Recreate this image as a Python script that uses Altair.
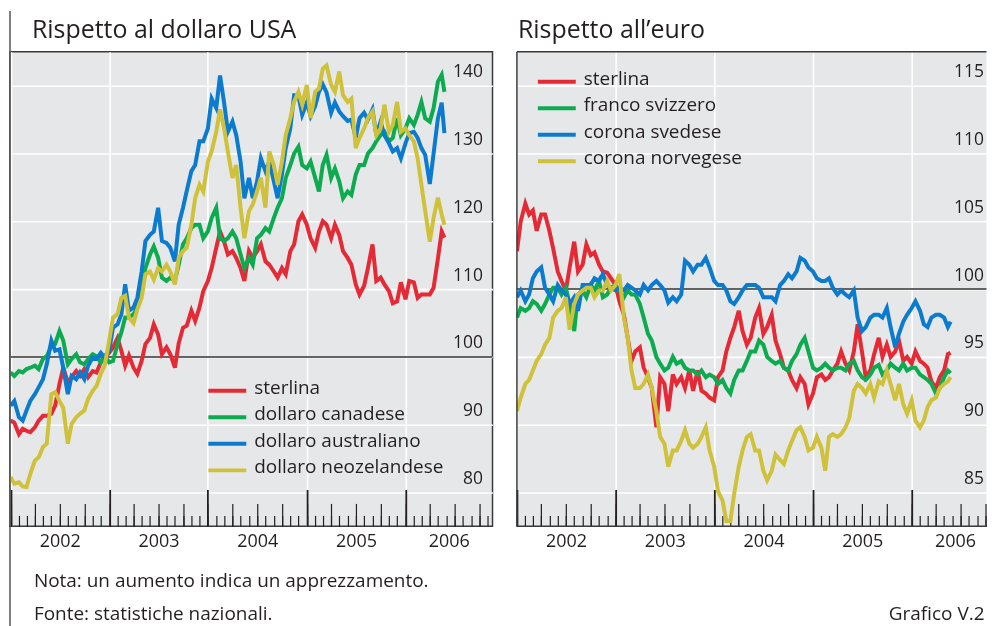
import altair as alt
import pandas as pd

# ---------------------------------------------------------------- data
# semi-monthly observations (1st and 15th), Jan 2002 - end May 2006
dates = [d.strftime("%Y-%m-%d") for d in pd.date_range("2002-01-01", periods=106, freq="SMS")] + ["2006-05-25"]

usd_names = ["sterlina", "dollaro canadese", "dollaro australiano", "dollaro neozelandese"]
eur_names = ["sterlina", "franco svizzero", "corona svedese", "corona norvegese"]
line_colors = ["#e52a35", "#0cab50", "#0b7bcf", "#cfc23a"]

usd_gbp = [
    90.6, 90.3, 88.6, 89.4, 89.1, 88.9, 89.6, 90.6, 91.3, 91.3, 91.6, 92.8, 96.0, 98.4, 96.2, 97.0, 97.9, 97.2, 98.2, 97.0, 97.9, 97.7, 99.2, 99.9,
    100.6, 101.4, 102.8, 100.9, 98.7, 100.2, 98.4, 97.5, 99.4, 101.9, 102.8, 104.8, 103.3, 100.4, 101.4, 100.4, 98.4, 102.0, 104.3, 104.6, 106.8, 105.3, 107.3, 109.7,
    111.2, 113.1, 116.1, 118.5, 117.0, 115.1, 115.6, 114.6, 113.1, 111.2, 115.6, 114.6, 115.6, 116.6, 114.1, 113.6, 112.6, 111.7, 113.1, 112.2, 115.6, 116.6, 120.0, 121.0,
    119.5, 117.5, 116.1, 118.5, 120.0, 119.5, 117.5, 119.5, 118.0, 115.6, 114.6, 113.6, 110.7, 109.2, 110.5, 113.1, 116.6, 111.2, 111.7, 110.7, 109.7, 107.9, 108.2, 111.0,
    108.5, 111.2, 111.0, 108.7, 109.2, 109.2, 109.2, 110.2, 114.5, 118.5, 117.6,
]
usd_cad = [
    97.7, 97.2, 97.9, 97.7, 98.2, 98.4, 98.7, 98.2, 99.7, 100.1, 101.6, 101.9, 103.8, 102.4, 98.9, 99.7, 100.4, 99.2, 98.9, 99.7, 100.4, 100.1, 99.2, 100.1,
    99.2, 99.4, 101.9, 103.6, 105.8, 105.8, 106.3, 107.3, 109.7, 113.1, 115.1, 116.3, 114.6, 111.7, 111.2, 111.7, 111.2, 113.6, 116.6, 117.5, 119.0, 119.5, 119.5, 117.5,
    118.5, 120.5, 122.0, 117.5, 117.1, 117.5, 118.5, 117.5, 115.1, 113.1, 114.6, 113.6, 117.5, 118.0, 119.0, 118.5, 120.5, 122.0, 123.4, 126.4, 128.3, 130.0, 131.0, 128.3,
    127.8, 128.8, 126.4, 124.4, 128.3, 129.8, 126.4, 127.8, 125.9, 123.4, 124.4, 123.9, 126.9, 128.3, 128.3, 130.0, 130.8, 131.8, 132.7, 133.2, 131.8, 132.3, 135.2, 132.7,
    133.7, 135.2, 134.2, 135.7, 137.6, 135.2, 134.7, 136.7, 140.6, 141.6, 139.1,
]
usd_aud = [
    92.8, 93.5, 91.1, 90.6, 92.1, 93.5, 94.5, 95.5, 96.7, 98.9, 102.4, 100.9, 101.1, 98.4, 94.5, 97.2, 96.7, 97.7, 96.7, 98.7, 99.9, 99.7, 100.6, 99.9,
    100.9, 104.3, 104.8, 106.3, 110.7, 106.8, 107.3, 108.7, 112.6, 117.1, 118.0, 118.5, 122.0, 117.1, 116.8, 116.1, 114.1, 119.5, 122.0, 124.5, 127.4, 128.3, 131.8, 131.8,
    133.7, 138.1, 136.7, 141.5, 137.5, 133.2, 134.7, 132.7, 128.8, 123.4, 126.4, 123.4, 125.9, 129.3, 127.4, 128.8, 125.9, 123.4, 126.9, 130.8, 133.7, 138.6, 138.5, 135.7,
    137.5, 135.5, 137.0, 139.1, 140.2, 139.0, 136.0, 137.5, 136.2, 135.5, 134.8, 135.0, 132.3, 135.2, 136.0, 135.0, 136.5, 132.7, 134.7, 132.7, 131.5, 130.3, 130.8, 129.3,
    131.5, 133.0, 133.2, 132.3, 130.8, 129.8, 125.5, 130.0, 135.2, 137.5, 133.0,
]
usd_nzd = [
    82.3, 81.3, 81.5, 80.9, 80.8, 82.7, 84.7, 85.2, 86.7, 87.2, 94.5, 94.8, 93.5, 92.5, 87.2, 90.1, 91.1, 91.6, 92.1, 93.8, 95.0, 95.7, 97.5, 98.7,
    102.4, 105.8, 106.3, 108.7, 109.0, 105.8, 105.0, 107.0, 108.7, 112.2, 112.6, 111.4, 113.1, 112.6, 113.6, 112.6, 110.7, 114.6, 115.6, 116.1, 119.5, 123.4, 125.4, 124.4,
    128.8, 130.3, 133.2, 136.5, 133.7, 130.3, 126.4, 128.3, 122.0, 117.5, 121.5, 122.5, 124.4, 126.4, 122.0, 130.3, 128.3, 125.4, 128.8, 132.7, 135.2, 137.6, 139.1, 137.2,
    140.1, 135.2, 139.1, 139.6, 142.5, 143.0, 140.1, 139.1, 142.1, 138.6, 137.6, 138.1, 130.8, 132.3, 133.7, 135.2, 136.2, 132.7, 133.7, 137.2, 133.2, 134.2, 137.6, 133.2,
    133.7, 132.7, 131.8, 129.3, 125.4, 121.5, 117.0, 120.5, 123.5, 121.0, 119.5,
]

eur_gbp = [
    102.8, 105.0, 106.3, 105.5, 105.8, 104.3, 105.5, 105.5, 104.3, 103.0, 101.3, 100.6, 99.9, 101.6, 103.5, 101.3, 101.8, 103.3, 102.5, 102.7, 101.8, 101.3, 101.2, 100.8,
    100.3, 99.1, 98.1, 96.4, 94.7, 95.4, 95.7, 94.2, 93.5, 92.7, 89.8, 93.5, 93.0, 91.0, 93.7, 93.0, 93.5, 92.7, 94.0, 92.5, 94.0, 92.5, 92.3, 92.0,
    91.8, 93.5, 94.0, 95.4, 96.4, 97.2, 98.4, 96.9, 95.9, 96.4, 97.9, 98.6, 96.7, 97.2, 98.1, 96.2, 95.2, 94.2, 94.0, 93.3, 92.7, 93.5, 93.0, 91.5,
    92.3, 93.5, 93.7, 93.3, 93.5, 94.0, 94.5, 95.4, 94.5, 94.0, 95.4, 97.4, 95.4, 93.5, 94.0, 95.2, 96.4, 95.0, 95.9, 95.0, 95.4, 96.2, 94.7, 95.0,
    94.5, 95.4, 94.7, 94.5, 94.2, 93.2, 92.7, 93.5, 94.0, 95.2, 95.3,
]
eur_chf = [
    97.9, 98.6, 98.4, 98.6, 99.1, 98.9, 98.4, 98.9, 99.6, 100.1, 100.1, 99.6, 100.1, 98.9, 96.9, 99.6, 99.9, 99.4, 100.3, 99.9, 100.6, 99.4, 99.6, 100.1,
    100.3, 99.9, 99.4, 99.9, 99.6, 99.6, 98.9, 97.9, 96.7, 96.2, 95.0, 94.5, 94.0, 94.2, 95.0, 94.5, 94.7, 94.2, 94.0, 94.0, 93.7, 94.0, 93.5, 93.7,
    93.5, 93.0, 93.3, 92.7, 92.3, 93.3, 94.0, 94.0, 94.7, 95.4, 95.4, 96.2, 95.9, 95.0, 94.7, 94.5, 94.7, 94.2, 94.0, 94.7, 95.2, 95.9, 96.4, 95.4,
    94.2, 94.0, 94.2, 94.5, 94.2, 94.0, 94.2, 94.2, 94.0, 94.5, 94.7, 94.0, 93.5, 93.3, 93.7, 94.2, 94.4, 93.7, 94.0, 94.5, 94.2, 94.0, 94.5, 94.0,
    94.2, 94.2, 93.7, 93.5, 93.3, 93.0, 92.3, 92.7, 93.5, 94.0, 93.8,
]
eur_sek = [
    99.4, 99.9, 99.1, 99.6, 100.8, 101.3, 101.6, 100.1, 99.6, 99.1, 100.3, 99.9, 99.6, 98.9, 99.4, 98.4, 100.3, 100.3, 100.3, 100.8, 100.6, 101.1, 100.3, 100.1,
    99.9, 100.1, 99.9, 100.3, 100.1, 99.9, 99.6, 100.3, 99.9, 100.3, 100.6, 100.3, 99.9, 99.0, 99.4, 99.1, 99.6, 102.1, 101.8, 101.3, 101.8, 101.8, 102.3, 101.6,
    100.6, 100.3, 100.3, 99.9, 99.1, 98.9, 99.4, 99.9, 100.3, 100.3, 100.3, 100.1, 99.4, 99.4, 99.4, 99.1, 100.3, 100.6, 101.1, 100.8, 101.3, 102.3, 102.1, 101.6,
    101.3, 100.8, 100.6, 100.6, 100.8, 100.1, 99.6, 99.9, 99.6, 99.4, 99.9, 97.9, 96.9, 97.2, 97.9, 98.1, 98.1, 97.9, 98.6, 97.2, 95.7, 96.7, 97.6, 98.1,
    98.6, 99.1, 98.4, 97.4, 97.2, 97.9, 98.1, 98.1, 97.9, 97.2, 97.6,
]
eur_nok = [
    91.0, 92.0, 93.0, 93.3, 94.0, 94.7, 95.2, 95.9, 96.4, 97.9, 98.4, 98.6, 99.4, 97.0, 98.9, 99.6, 99.9, 100.1, 100.1, 99.4, 99.9, 99.9, 100.6, 99.9,
    100.3, 101.1, 97.9, 96.4, 94.0, 92.7, 92.7, 93.0, 93.7, 92.7, 91.0, 89.1, 88.6, 86.9, 88.1, 88.1, 88.8, 89.6, 88.6, 88.3, 88.6, 89.1, 89.8, 88.1,
    86.9, 85.1, 84.4, 82.9, 82.9, 84.9, 86.9, 88.1, 89.1, 89.3, 88.1, 88.1, 86.6, 85.9, 86.6, 87.8, 87.4, 87.1, 88.1, 88.8, 89.6, 89.8, 89.1, 88.1,
    88.3, 89.1, 88.3, 86.6, 89.1, 89.3, 89.1, 89.3, 89.8, 90.5, 92.5, 93.0, 92.7, 92.3, 93.0, 92.0, 93.2, 93.0, 94.0, 93.0, 91.8, 93.0, 91.5, 90.8,
    91.8, 90.3, 89.8, 90.3, 91.3, 91.8, 92.0, 92.7, 93.0, 93.2, 93.5,
]

usd_ticks = [80, 90, 100, 110, 120, 130, 140]
eur_ticks = [85, 90, 95, 100, 105, 110, 115]
reference_level = [100]
year_label_days = [(2002, 7, 2), (2003, 7, 2), (2004, 7, 2), (2005, 7, 2), (2006, 6, 10)]

note_text = "Nota: un aumento indica un apprezzamento."
source_text = "Fonte: statistiche nazionali."
chart_id = "Grafico V.2"

# ---------------------------------------------------------------- style
FONT = "Open Sans"
TXT = "#231f20"
GRID = "#ffffff"
TICK = "#231f20"
FRAME = "#3a3a3a"
H = 476
TOP = -41          # frame line reaching into the title band


def dt(y, m, d):
    return alt.DateTime(year=y, month=m, date=d, utc=True)


def rule(color, **enc):
    return alt.Chart(pd.DataFrame({"v": [0]})).mark_rule(color=color, strokeWidth=1.5).encode(
        **{k: alt.value(v) for k, v in enc.items()})


def make_panel(names, series, title, title_dx, width, x_start, x_end, y_dom, y_vals,
               y_pad, leg_x, leg_y, extra_layers, view=None):
    for s in series:
        assert len(s) == len(dates)
    rows = []
    for name, vals in zip(names, series):
        for d, v in zip(dates, vals):
            rows.append({"date": d, "value": v, "serie": name})
    df = pd.DataFrame(rows)

    xs = alt.Scale(type="utc", domain=[dt(*x_start), dt(*x_end)], nice=False)
    ys = alt.Scale(domain=y_dom, nice=False, zero=False)

    y_axis = alt.Axis(orient="right", values=y_vals, grid=True, gridColor=GRID, gridWidth=1.6,
                      ticks=False, tickSize=0, domain=False, labelAlign="right",
                      labelPadding=y_pad, labelBaseline="alphabetic", labelOffset=-9,
                      labelFontSize=17.5, labelFont=FONT, labelColor=TXT, labelOverlap=False,
                      title=None)
    year_axis = alt.Axis(orient="bottom", values=[dt(*v) for v in year_label_days], format="%Y",
                         ticks=False, tickSize=0, domain=False, grid=False, labelPadding=6,
                         labelFontSize=18, labelFont=FONT, labelColor=TXT, labelFlush=False,
                         labelOverlap=False, title=None)

    legend = alt.Legend(orient="none", legendX=leg_x, legendY=leg_y, title=None,
                        direction="vertical", symbolType="M-1,0.16L1,0.16", symbolSize=1444,
                        symbolStrokeWidth=4, clipHeight=20, rowPadding=6.6,
                        labelFontSize=19, labelFont=FONT, labelColor=TXT, labelOffset=6,
                        padding=0, labelLimit=400)

    lines = alt.Chart(df).mark_line(strokeWidth=4, blend="multiply", clip=True).encode(
        x=alt.X("date:T", scale=xs, axis=year_axis),
        y=alt.Y("value:Q", scale=ys, axis=y_axis),
        color=alt.Color("serie:N", scale=alt.Scale(domain=names, range=line_colors),
                        sort=names, legend=legend),
    )

    anchor = pd.DataFrame({"date": [dates[0]]})

    def axis_layer(ax):
        return alt.Chart(anchor).mark_point(opacity=0, size=1, clip=True).encode(
            x=alt.X("date:T", scale=xs, axis=ax))

    grid_layer = axis_layer(alt.Axis(orient="bottom", tickCount={"interval": "year", "step": 1},
                                     grid=True, gridColor=GRID, gridWidth=1.6, labels=False,
                                     ticks=False, domain=False, title=None))
    month_ticks = axis_layer(alt.Axis(orient="top", offset=-H,
                                      tickCount={"interval": "month", "step": 1},
                                      tickSize=11, tickWidth=1.2, tickColor=TICK, labels=False,
                                      domain=False, grid=False, title=None))
    quarter_ticks = axis_layer(alt.Axis(orient="top", offset=-H,
                                        tickCount={"interval": "month", "step": 3},
                                        tickSize=23, tickWidth=1.2, tickColor=TICK, labels=False,
                                        domain=False, grid=False, title=None))
    year_ticks = axis_layer(alt.Axis(orient="top", offset=-H,
                                     tickCount={"interval": "year", "step": 1},
                                     tickSize=37, tickWidth=1.8, tickColor=TICK, labels=False,
                                     domain=False, grid=False, title=None))

    ref_rule = alt.Chart(pd.DataFrame({"value": reference_level})).mark_rule(
        color="#333333", strokeWidth=1.5).encode(y=alt.Y("value:Q", scale=ys, axis=y_axis))

    layers = [grid_layer, month_ticks, quarter_ticks, year_ticks, ref_rule, lines] + extra_layers
    props = dict(
        width=width, height=H,
        title=alt.TitleParams(title, anchor="start", frame="group", dx=title_dx, fontSize=25,
                              font=FONT, fontWeight="normal", color=TXT,
                              baseline="alphabetic", offset=-52.5),
    )
    if view is not None:
        props["view"] = view
    return alt.layer(*layers).resolve_axis(x="independent").properties(**props)


def text_layer(txt, x, y, align):
    return alt.Chart(pd.DataFrame({"t": [txt]})).mark_text(
        align=align, baseline="alphabetic", fontSize=19, font=FONT, color=TXT
    ).encode(text="t:N", x=alt.value(x), y=alt.value(y))


W_LEFT, W_RIGHT = 484, 471

left = make_panel(usd_names, [usd_gbp, usd_cad, usd_aud, usd_nzd], "Rispetto al dollaro USA",
                  22, W_LEFT, (2001, 12, 30), (2006, 11, 19), [75, 145], usd_ticks, -10, 197, 327,
                  [rule("#555555", x=0, y=TOP, y2=H + 100),
                   text_layer(note_text, 24, 537, "left"),
                   text_layer(source_text, 24, 570, "left")])

right = make_panel(eur_names, [eur_gbp, eur_chf, eur_sek, eur_nok], "Rispetto all\u2019euro",
                   1, W_RIGHT, (2002, 1, 1), (2006, 10, 5), [82.5, 117.5], eur_ticks, -3, 19, 17,
                   [rule("#ffffff", x=0, y=TOP, y2=0),
                    rule(FRAME, x=0, y=0, y2=H),
                    rule(FRAME, x=0, x2=W_RIGHT, y=0),
                    rule(FRAME, x=0, x2=W_RIGHT, y=H),
                    text_layer(chart_id, 469, 570, "right")],
                   view=alt.ViewBackground(fill="#e6e7e8", stroke="transparent"))

chart = alt.hconcat(left, right, spacing=20.5).resolve_scale(
    x="independent", y="independent", color="independent"
).resolve_legend(color="independent").properties(
    padding={"top": 0, "left": 0, "right": 0, "bottom": 0}, background="white"
).configure_view(fill="#e6e7e8", stroke=FRAME, strokeWidth=1.5)

chart.save("out.html", embed_options={"renderer": "svg", "actions": False})
